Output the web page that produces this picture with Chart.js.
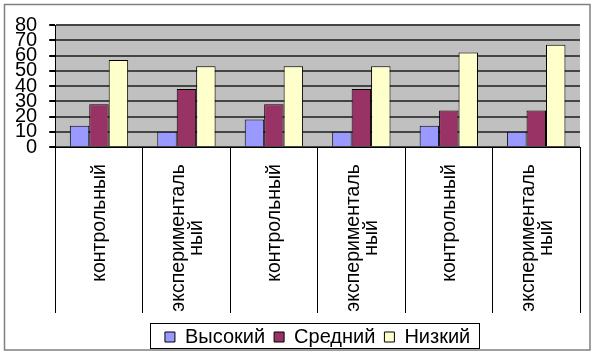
<!DOCTYPE html>
<html>
<head>
<meta charset="utf-8">
<script src="https://cdn.jsdelivr.net/npm/chart.js@4/dist/chart.umd.min.js"></script>
<style>
  html, body { margin: 0; padding: 0; background: #fff; }
  #wrap { width: 596px; height: 357px; }
</style>
</head>
<body>
<div id="wrap"><canvas id="c" width="596" height="357"></canvas></div>
<script>
// ---- data ----
const categories = ['контрольный', 'экспериментальный', 'контрольный', 'экспериментальный', 'контрольный', 'экспериментальный'];
const categoryLines = [['контрольный'], ['эксперименталь', 'ный'], ['контрольный'], ['эксперименталь', 'ный'], ['контрольный'], ['эксперименталь', 'ный']];
const seriesNames = ['Высокий', 'Средний', 'Низкий'];
const highValues = [14, 10, 18, 10, 14, 10];
const midValues = [28, 38, 28, 38, 24, 24];
const lowValues = [57, 53, 53, 53, 62, 67];
const yTicks = [0, 10, 20, 30, 40, 50, 60, 70, 80];

const FONT = '"Liberation Sans", Arial, sans-serif';

const framePlugin = {
  id: 'frame',
  beforeDraw(chart) {
    const ctx = chart.ctx;
    const a = chart.chartArea;
    ctx.save();
    ctx.fillStyle = '#fff';
    ctx.fillRect(0, 0, chart.width, chart.height);
    ctx.strokeStyle = '#808080';
    ctx.lineWidth = 1.5;
    ctx.strokeRect(4.5, 4.5, 585.5, 345.5);
    ctx.fillStyle = '#c0c0c0';
    ctx.fillRect(a.left, a.top, a.right - a.left, a.bottom - a.top);
    ctx.restore();
  },
  afterDraw(chart) {
    const ctx = chart.ctx;
    const xs = chart.scales.x;
    ctx.save();
    ctx.font = '19.5px ' + FONT;
    ctx.fillStyle = '#000';
    ctx.textAlign = 'center';
    ctx.textBaseline = 'middle';
    categoryLines.forEach((lines, i) => {
      const x = xs.getPixelForValue(i);
      const W = Math.max(...lines.map(l => ctx.measureText(l).width));
      const cy = xs.top + 17 + W / 2;
      const lh = 18;
      lines.forEach((l, j) => {
        const off = (j - (lines.length - 1) / 2) * lh;
        ctx.save();
        ctx.translate(x + off + 1, cy);
        ctx.rotate(-Math.PI / 2);
        ctx.fillText(l, 0, 0);
        ctx.restore();
      });
    });
    // legend border
    const lg = chart.legend;
    if (lg && lg.legendHitBoxes && lg.legendHitBoxes.length) {
      const hb = lg.legendHitBoxes;
      const left = Math.min(...hb.map(h => h.left));
      const right = Math.max(...hb.map(h => h.left + h.width));
      const cyL = hb[0].top + hb[0].height / 2;
      ctx.strokeStyle = '#000';
      ctx.lineWidth = 1;
      ctx.strokeRect(Math.round(left - 15) + 0.5, Math.round(cyL - 14) + 0.5, Math.round(right - left + 24), 25);
    }
    ctx.restore();
  }
};

new Chart(document.getElementById('c'), {
  type: 'bar',
  data: {
    labels: categories,
    datasets: [
      { label: seriesNames[0], data: highValues, backgroundColor: '#9999ff', borderColor: '#000', borderWidth: 1 },
      { label: seriesNames[1], data: midValues, backgroundColor: '#993366', borderColor: '#000', borderWidth: 1 },
      { label: seriesNames[2], data: lowValues, backgroundColor: '#ffffcc', borderColor: '#000', borderWidth: 1 }
    ]
  },
  options: {
    responsive: false,
    animation: false,
    devicePixelRatio: 1,
    layout: { padding: { left: 3, right: 16, top: 25, bottom: 0 } },
    datasets: { bar: { categoryPercentage: 0.667, barPercentage: 1.0 } },
    scales: {
      x: {
        type: 'category',
        offset: true,
        grid: { display: true, drawOnChartArea: false, drawTicks: true, tickLength: 166, color: '#000', lineWidth: 1, offset: true },
        border: { display: true, color: '#000', width: 1 },
        ticks: { display: false },
        afterFit(scale) { scale.height = 171; }
      },
      y: {
        min: 0, max: 80,
        afterBuildTicks(scale) { scale.ticks = yTicks.map(v => ({ value: v })); },
        ticks: { autoSkip: false, font: { size: 20, family: FONT }, color: '#000', padding: 12 },
        grid: { color: '#454545', lineWidth: 2, tickLength: 6, tickColor: '#000' },
        border: { display: true, color: '#000', width: 1 }
      }
    },
    plugins: {
      legend: {
        position: 'bottom',
        fullSize: false,
        labels: { font: { size: 20, family: FONT }, color: '#000', boxWidth: 10, boxHeight: 10, padding: 9 }
      },
      tooltip: { enabled: false }
    }
  },
  plugins: [framePlugin]
});
</script>
</body>
</html>
